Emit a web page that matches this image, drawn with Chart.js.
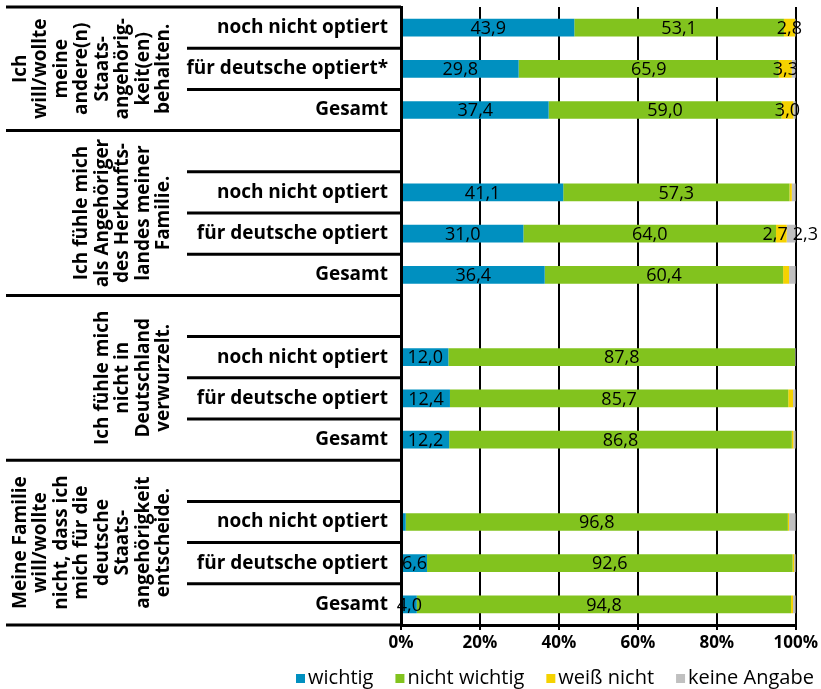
<!DOCTYPE html>
<html>
<head>
<meta charset="utf-8">
<script src="https://cdn.jsdelivr.net/npm/chart.js@4"></script>
<style>
  body { margin: 0; background: #fff; }
  #wrap { width: 821px; height: 689px; position: relative; }
</style>
</head>
<body>
<div id="wrap"><canvas id="chart"></canvas></div>
<script>
const font_family = '"Open Sans", "Noto Sans", sans-serif';

const categories = [
    'noch nicht optiert', 'für deutsche optiert*', 'Gesamt',
    '', 'noch nicht optiert', 'für deutsche optiert', 'Gesamt',
    '', 'noch nicht optiert', 'für deutsche optiert', 'Gesamt',
    '', 'noch nicht optiert', 'für deutsche optiert', 'Gesamt'
];

// group captions (first row index, last row index, text lines)
const group_first = [0, 3, 7, 11];
const group_last = [2, 6, 10, 14];
const group_lines = [
    ['Ich', 'will/wollte', 'meine', 'andere(n)', 'Staats-', 'angehörig-', 'keit(en)', 'behalten.'],
    ['Ich fühle mich', 'als Angehöriger', 'des Herkunfts-', 'landes meiner', 'Familie.'],
    ['Ich fühle mich', 'nicht in', 'Deutschland', 'verwurzelt.'],
    ['Meine Familie', 'will/wollte', 'nicht, dass ich', 'mich für die', 'deutsche', 'Staats-', 'angehörigkeit', 'entscheide.']
];

const wichtig       = [43.9, 29.8, 37.4, null, 41.1, 31.0, 36.4, null, 12.0, 12.4, 12.2, null, 1.2, 6.6, 4.0];
const nicht_wichtig = [53.1, 65.9, 59.0, null, 57.3, 64.0, 60.4, null, 87.8, 85.7, 86.8, null, 96.8, 92.6, 94.8];
const weiss_nicht   = [2.8, 3.3, 3.0, null, 0.6, 2.7, 1.5, null, 0.0, 1.2, 0.4, null, 0.3, 0.4, 0.5];
const keine_angabe  = [0.2, 1.0, 0.6, null, 1.0, 2.3, 1.7, null, 0.2, 0.7, 0.6, null, 1.7, 0.4, 0.7];

const x_ticks = [0, 20, 40, 60, 80, 100];
const label_min = 2;

// values written on the bars
const bar_labels = {
    id: 'bar_labels',
    afterDatasetsDraw(chart) {
        const ctx = chart.ctx;
        ctx.save();
        ctx.fillStyle = '#000';
        ctx.font = '18px ' + font_family;
        ctx.textBaseline = 'middle';
        const sets = chart.data.datasets;
        sets.forEach((set, d) => {
            chart.getDatasetMeta(d).data.forEach((bar, i) => {
                const v = set.data[i];
                if (v == null || v < label_min) return;
                const txt = v.toFixed(1).replace('.', ',');
                let x = (bar.x + bar.base) / 2;
                ctx.textAlign = 'center';
                // yellow and grey both labelled: push them apart
                if (d == 2 && sets[3].data[i] >= label_min) {
                    ctx.textAlign = 'right';
                    x = bar.x + 1;
                }
                if (d == 3 && sets[2].data[i] >= label_min) {
                    ctx.textAlign = 'left';
                    x = bar.base + 6;
                }
                ctx.fillText(txt, x, bar.y + 1);
            });
        });
        ctx.restore();
    }
};

// row separators and rotated group captions left of the bars
const label_table = {
    id: 'label_table',
    afterDraw(chart) {
        const ctx = chart.ctx;
        const y = chart.scales.y;
        const area = chart.chartArea;
        const step = y.getPixelForValue(1) - y.getPixelForValue(0);
        ctx.save();
        ctx.strokeStyle = '#000';
        ctx.lineWidth = 3;
        for (let i = 0; i <= categories.length; i++) {
            const py = y.getPixelForValue(i) - step / 2;
            const is_group = i == categories.length || group_first.includes(i);
            ctx.beginPath();
            ctx.moveTo(is_group ? 6 : 187, py);
            ctx.lineTo(area.left, py);
            ctx.stroke();
        }

        ctx.fillStyle = '#000';
        ctx.font = 'bold 19px ' + font_family;
        ctx.textAlign = 'center';
        ctx.textBaseline = 'alphabetic';
        const line_h = 20.5;
        group_lines.forEach((lines, g) => {
            const cy = (y.getPixelForValue(group_first[g]) + y.getPixelForValue(group_last[g])) / 2;
            lines.forEach((line, k) => {
                const bx = 169 - (lines.length - 1 - k) * line_h;
                ctx.save();
                ctx.translate(bx, cy);
                ctx.rotate(-Math.PI / 2);
                ctx.fillText(line, 0, 0);
                ctx.restore();
            });
        });
        ctx.restore();
    }
};

// legend row under the axis, tight box/text gap like the original
const legend_row = {
    id: 'legend_row',
    afterDraw(chart) {
        const ctx = chart.ctx;
        ctx.save();
        ctx.font = '20px ' + font_family;
        ctx.textBaseline = 'middle';
        ctx.textAlign = 'left';
        let x = 296;
        const y = 678;
        chart.data.datasets.forEach(set => {
            ctx.fillStyle = set.backgroundColor;
            ctx.fillRect(x, y - 4, 9, 9);
            ctx.fillStyle = '#000';
            ctx.fillText(set.label, x + 12, y);
            x += 12 + ctx.measureText(set.label).width + 22;
        });
        ctx.restore();
    }
};

new Chart(document.getElementById('chart'), {
    type: 'bar',
    data: {
        labels: categories,
        datasets: [
            { label: 'wichtig', data: wichtig, backgroundColor: '#0090C0' },
            { label: 'nicht wichtig', data: nicht_wichtig, backgroundColor: '#82C31E' },
            { label: 'weiß nicht', data: weiss_nicht, backgroundColor: '#F5D200' },
            { label: 'keine Angabe', data: keine_angabe, backgroundColor: '#C0C0C0' }
        ]
    },
    options: {
        indexAxis: 'y',
        responsive: true,
        maintainAspectRatio: false,
        animation: false,
        barPercentage: 0.43,
        categoryPercentage: 1,
        layout: { padding: { left: 0, right: 4, top: 7, bottom: 40 } },
        scales: {
            x: {
                stacked: true,
                min: 0,
                max: 100,
                afterBuildTicks: scale => { scale.ticks = x_ticks.map(v => ({ value: v })); },
                afterFit: scale => { scale.height = 24; },
                ticks: {
                    color: '#000',
                    padding: 3,
                    font: { family: font_family, size: 17, weight: 'bold' },
                    callback: value => value + '%'
                },
                grid: { color: '#000', lineWidth: 2, tickLength: 5 },
                border: { color: '#000', width: 3 }
            },
            y: {
                stacked: true,
                afterFit: scale => {
                    scale.width = 401;
                    scale.paddingTop = 0;
                    scale.paddingBottom = 0;
                },
                ticks: {
                    color: '#000',
                    padding: 13,
                    autoSkip: false,
                    font: { family: font_family, size: 19, weight: 'bold' }
                },
                grid: { display: false, drawTicks: false },
                border: { color: '#000', width: 3, z: 1 }
            }
        },
        plugins: {
            legend: { display: false },
            tooltip: { enabled: false }
        }
    },
    plugins: [bar_labels, label_table, legend_row]
});
</script>
</body>
</html>
